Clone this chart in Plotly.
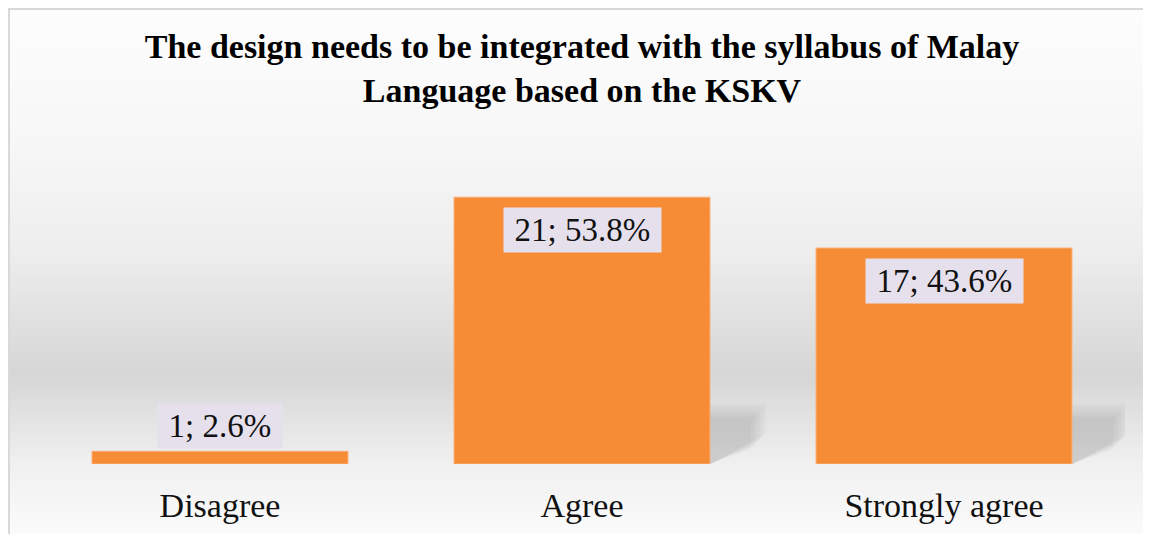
import plotly.graph_objects as go

categories = ["Disagree", "Agree", "Strongly agree"]
counts = [1, 21, 17]
percents = [2.6, 53.8, 43.6]
title_lines = ["The design needs to be integrated with the syllabus of Malay",
               "Language based on the KSKV"]

# page has an 8px body margin, so keep the figure inside the 1151x542 window
OFF = 8
W, H = 1151 - 2 * OFF, 542 - 2 * OFF
margin = dict(l=31, r=18, t=113, b=70)
y_max = 27
SERIF = "Times New Roman, Liberation Serif, serif"

# page pixel -> paper helpers for the decorative background
plot_w = W - margin["l"] - margin["r"]
plot_h = H - margin["t"] - margin["b"]
def px_x(px):
    return (px - OFF - margin["l"]) / plot_w
def px_y(py):
    return (H - margin["b"] - (py - OFF)) / plot_h

# grey gradient stops (page row, grey level)
grad = [(8, 253), (140, 247), (250, 238), (375, 214), (464, 240), (542, 252)]
def grey_at(py):
    for (y0, g0), (y1, g1) in zip(grad, grad[1:]):
        if y0 <= py <= y1:
            return g0 + (g1 - g0) * (py - y0) / (y1 - y0)
    return grad[-1][1]

shapes = []
step = 2
for py in range(8, 542, step):
    g = int(round(grey_at(py + step / 2)))
    shapes.append(dict(type="rect", xref="paper", yref="paper", layer="below",
                       x0=px_x(7), x1=px_x(1160), y0=px_y(py + step), y1=px_y(py),
                       fillcolor=f"rgb({g},{g},{g})", line=dict(width=0)))
# frame border
shapes.append(dict(type="rect", xref="paper", yref="paper", layer="below",
                   x0=px_x(9), x1=px_x(1165), y0=px_y(560), y1=px_y(9),
                   fillcolor="rgba(0,0,0,0)", line=dict(color="#d9d9d9", width=2)))

bar_width = 0.707
unit_px = plot_h / y_max
cat_px = plot_w / len(categories)
# soft shadows to the right of each bar base
for i, v in enumerate(counts):
    sh = min(v, 60 / unit_px)
    if sh < 2:
        continue
    xr = i + bar_width / 2
    for k in range(6):
        s = k * 3
        top = sh - s / unit_px
        right = xr + (56 - s) / cat_px
        low = sh * 0.5 - s / unit_px
        shapes.append(dict(type="path", xref="x", yref="y", layer="below",
                           path=f"M {xr},0 L {xr},{top} L {right},{top} L {right},{low} Z",
                           fillcolor="rgba(120,120,120,0.055)", line=dict(width=0)))

fig = go.Figure(go.Bar(
    x=list(range(len(categories))),
    y=counts,
    width=bar_width,
    marker=dict(color="#F68C36", line=dict(color="#F9AE78", width=1)),
    hoverinfo="skip",
))

annotations = []
for i, (c, p) in enumerate(zip(counts, percents)):
    inside = c > 3
    annotations.append(dict(
        x=i, y=c, xref="x", yref="y",
        text=f"\u2009{c}; {p}%\u2009", showarrow=False,
        yanchor="middle", yshift=-33 if inside else 25,
        bgcolor="#E6E0EC", borderpad=4,
        font=dict(family=SERIF, size=33, color="#111111"),
    ))

fig.update_layout(
    width=W, height=H,
    margin=margin,
    paper_bgcolor="white",
    plot_bgcolor="rgba(0,0,0,0)",
    showlegend=False,
    shapes=shapes,
    annotations=annotations,
    title=dict(
        text="<br>".join(title_lines),
        x=0.5, xref="paper", xanchor="center",
        y=0.905, yanchor="top",
        font=dict(family=SERIF, size=34, color="black", weight="bold"),
    ),
)
fig.update_xaxes(
    tickmode="array", tickvals=list(range(len(categories))), ticktext=categories,
    range=[-0.5, len(categories) - 0.5],
    showgrid=False, zeroline=False, showline=False, automargin=False,
    ticks="outside", ticklen=0, ticklabelstandoff=11,
    tickfont=dict(family=SERIF, size=34, color="#111111"),
)
fig.update_yaxes(range=[0, y_max], visible=False, automargin=False)

fig.write_html("out.html")
